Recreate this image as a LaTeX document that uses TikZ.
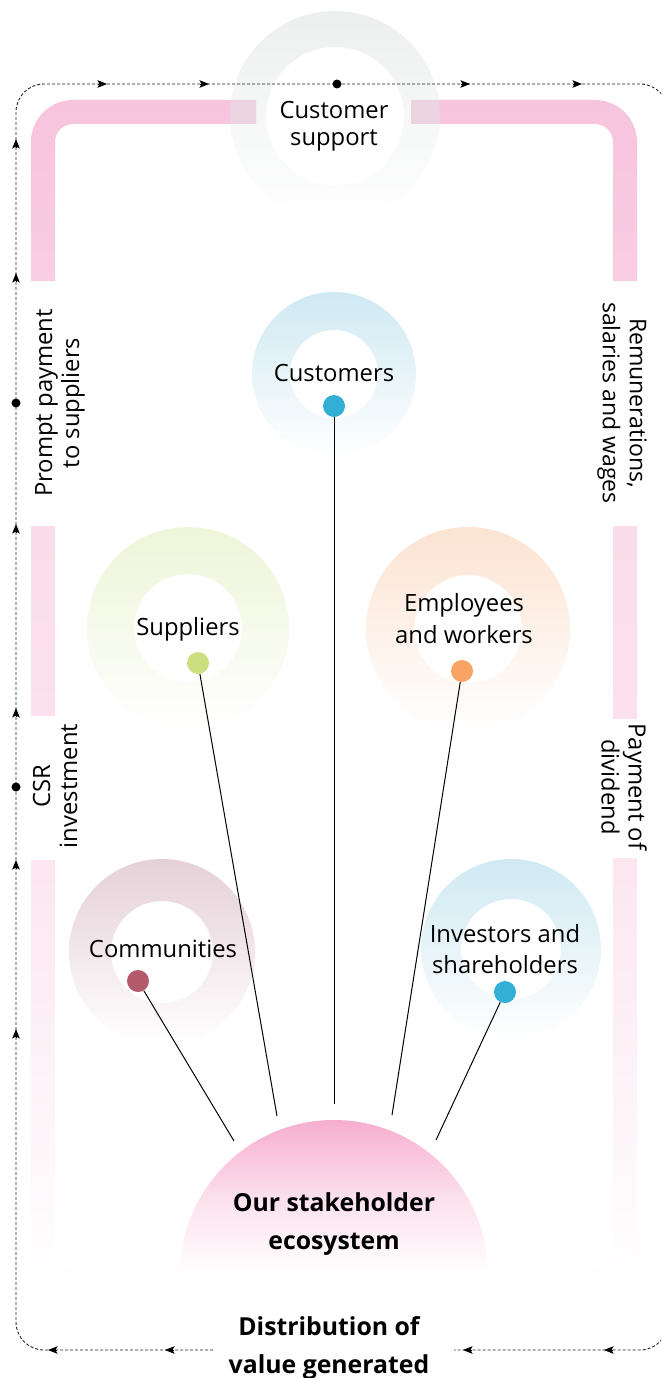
\documentclass[tikz,border=0pt]{standalone}
\usepackage{fontspec}
\setmainfont{Open Sans}
\usetikzlibrary{arrows.meta}
\definecolor{bandA}{HTML}{F7C4DD}
\definecolor{bandAb}{HTML}{F9CDE2}
\definecolor{bandB}{HTML}{FBDCEA}
\definecolor{bandBb}{HTML}{FCE0ED}
\definecolor{bandC}{HTML}{FCE6F0}
\definecolor{overlap}{HTML}{EBD3E0}
\definecolor{flowc}{HTML}{222222}
\definecolor{rgray}{HTML}{EDEFEF}
\definecolor{rcyan}{HTML}{CFE9F2}
\definecolor{rgreen}{HTML}{EEF5D8}
\definecolor{rorange}{HTML}{FCE3D2}
\definecolor{rrose}{HTML}{E5D0D8}
\definecolor{hubtop}{HTML}{F6AECF}
\definecolor{hubmid}{HTML}{FBE0EC}
\definecolor{dcomm}{HTML}{B35A6B}
\definecolor{dsupp}{HTML}{CBDF7E}
\definecolor{dcyan}{HTML}{33AED4}
\definecolor{demp}{HTML}{F9A464}
\tikzset{
  x=1pt,y=-1pt,
  ring/.style={even odd rule,top color=#1,bottom color=white,draw=none},
  lbl/.style={font=\fontsize{23.8}{27}\selectfont,align=center,inner sep=0pt,text=black},
  lblb/.style={font=\fontsize{24.8}{38}\selectfont\bfseries,align=center,inner sep=0pt,text=black},
  dot/.style={circle,fill=#1,draw=none,minimum size=22pt,inner sep=0pt},
  spoke/.style={draw=black,line width=1pt},
  flow/.style={draw=flowc,line width=0.9pt,dash pattern=on 3pt off 2pt},
  bigdot/.style={circle,fill=black,draw=none,minimum size=9pt,inner sep=0pt},
  head/.style={draw=black,line width=0.9pt,-{Stealth[length=9.5pt,width=7.5pt,inset=2pt,fill=black]}},
}
\begin{document}
\begin{tikzpicture}
\useasboundingbox (0,0) rectangle (661,1378);
% customer support ring first, bands over it
\path[ring=rgray] (335,116) circle (105) (335,116) circle (69);
% top band
\shade[top color=bandA,bottom color=bandAb]
  (256,100) -- (73,100) arc[start angle=-90,end angle=-180,radius=42] -- (31,281) -- (55,281) -- (55,142)
  arc[start angle=-180,end angle=-90,radius=18] -- (256,124) -- cycle;
\shade[top color=bandA,bottom color=bandAb]
  (411,100) -- (595,100) arc[start angle=-90,end angle=0,radius=42] -- (637,281) -- (613,281) -- (613,142)
  arc[start angle=0,end angle=-90,radius=18] -- (411,124) -- cycle;
\begin{scope}
  \clip (335,116) circle (105);
  \fill[overlap] (225,100) rectangle (256,124);
  \fill[overlap] (411,100) rectangle (445,124);
\end{scope}
% middle bands
\shade[top color=bandB,bottom color=bandBb] (31,526) rectangle (55,715);
\shade[top color=bandB,bottom color=bandBb] (613,526) rectangle (637,718);
% lower band
\shade[top color=bandC,bottom color=white]
  (31,860) -- (31,1248) arc[start angle=-180,end angle=-270,radius=42] -- (595,1290)
  arc[start angle=90,end angle=0,radius=42] -- (637,858) -- (613,858) -- (613,1250)
  arc[start angle=0,end angle=90,radius=18] -- (73,1268) arc[start angle=90,end angle=180,radius=18] -- (55,860) -- cycle;
% rings
\path[ring=rcyan] (334,374) circle (82) (334,374) circle (44);
\path[ring=rgreen] (188,628) circle (101) (188,628) circle (54);
\path[ring=rorange] (468,629) circle (102) (468,629) circle (54);
\path[ring=rrose] (162,952) circle (93) (162,952) circle (51);
\path[ring=rcyan] (511,949) circle (90) (511,949) circle (50);
% hub
\shade[top color=hubtop,bottom color=white,middle color=hubmid]
  (180,1274) arc[start angle=-180,end angle=0,radius=154] -- cycle;
% dashed loop
\begin{scope}
  \clip (0,0) rectangle (661,1378);
  \path[flow] (213,1350) -- (44,1350) arc[start angle=90,end angle=180,radius=28] -- (16,112)
    arc[start angle=-180,end angle=-90,radius=28] -- (640,84)
    arc[start angle=-90,end angle=0,radius=28] -- (668,1322)
    arc[start angle=0,end angle=90,radius=28] -- (454,1350);
\end{scope}
% flow markers
\foreach \xx in {107,209,470,582} {
  \coordinate (u) at (\xx-9,84); \coordinate (v) at (\xx,84);
  \draw[head] (u) -- (v);
}
\foreach \yy in {139,273,524,708,860,1029} {
  \coordinate (u) at (16,\yy+9); \coordinate (v) at (16,\yy);
  \draw[head] (u) -- (v);
}
\foreach \xx in {48,165,463,604} {
  \coordinate (u) at (\xx+9,1350); \coordinate (v) at (\xx,1350);
  \draw[head] (u) -- (v);
}
\node[bigdot] (d1) at (337,84) {};
\node[bigdot] (d2) at (16,403) {};
\node[bigdot] (d3) at (16,787) {};
% labels
\node[lbl] (support) at (334,126) {Customer\\support};
\node[lbl] (customers) at (334,373) {Customers};
\node[lbl] (suppliers) at (188,629) {Suppliers};
\node[lbl,font=\fontsize{23.8}{32}\selectfont] (employees) at (464,619) {Employees\\and workers};
\node[lbl] (communities) at (163,949) {Communities};
\node[lbl,font=\fontsize{23.8}{31}\selectfont] (investors) at (505,949) {Investors and\\shareholders};
\node[lblb] (hub) at (334,1224) {Our stakeholder\\ecosystem};
\node[lblb] (dist) at (329,1348) {Distribution of\\value generated};
\node[lbl,rotate=90] (prompt) at (60,403) {Prompt payment\\to suppliers};
\node[lbl,rotate=90] (csr) at (55,786) {CSR\\investment};
\node[lbl,font=\fontsize{23}{27}\selectfont,rotate=-90] (remun) at (622,403) {Remunerations,\\salaries and wages};
\node[lbl,rotate=-90] (divid) at (624,787) {Payment of\\dividend};
% spokes
\coordinate (e1) at (234,1141);
\coordinate (e2) at (277,1116);
\coordinate (e3) at (334,1104);
\coordinate (e4) at (392,1115);
\coordinate (e5) at (436,1140);
\node[dot=dcomm] (p1) at (138,981) {};
\node[dot=dsupp] (p2) at (198,663) {};
\node[dot=dcyan] (p3) at (334,406) {};
\node[dot=demp] (p4) at (462,671) {};
\node[dot=dcyan] (p5) at (505,992) {};
\draw[spoke] (p1) -- (e1);
\draw[spoke] (p2) -- (e2);
\draw[spoke] (p3) -- (e3);
\draw[spoke] (p4) -- (e4);
\draw[spoke] (p5) -- (e5);
\end{tikzpicture}
\end{document}
